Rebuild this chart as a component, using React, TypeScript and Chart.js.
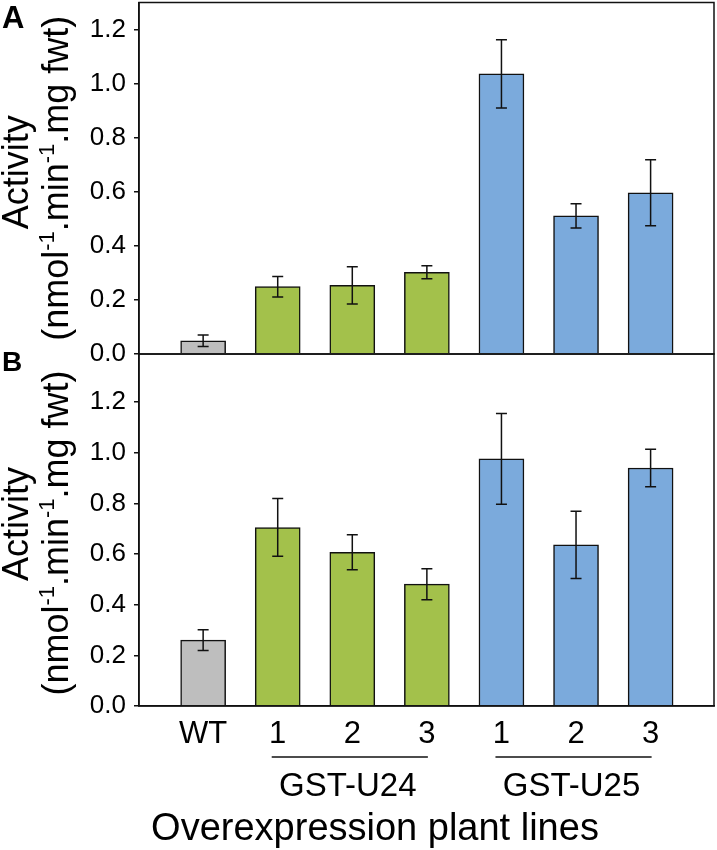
import React, { useEffect, useRef } from 'react';
import { Chart, registerables } from 'chart.js';

Chart.register(...registerables);

// ---------------- data ----------------
const categories = ['WT', '1', '2', '3', '1', '2', '3'];
const barColors = ['#BEBEBE', '#A3C14B', '#A3C14B', '#A3C14B', '#7BAADC', '#7BAADC', '#7BAADC'];
const activityA = [0.049, 0.249, 0.254, 0.302, 1.036, 0.511, 0.596];
const errorA = [0.021, 0.038, 0.069, 0.024, 0.126, 0.045, 0.122];
const activityB = [0.26, 0.705, 0.607, 0.481, 0.976, 0.636, 0.94];
const errorB = [0.041, 0.114, 0.069, 0.061, 0.179, 0.133, 0.074];
const yTicks = [0, 0.2, 0.4, 0.6, 0.8, 1.0, 1.2];
const groupLabels = ['GST-U24', 'GST-U25'];
const groupFrom = [1, 4];
const groupTo = [3, 6];
const xTitle = 'Overexpression plant lines';
const yTitleLine1 = 'Activity';
const yTitleParts = ['(nmol', '-1', '.min', '-1', '.mg fwt)'];
const yTitleSup = [false, true, false, true, false];

// ---------------- styling ----------------
const FONT = '"Liberation Sans", Arial, Helvetica, sans-serif';
const INK = '#111111';

function buildConfig(opts: any) {
  const { values, errors, yMax, letter, letterSize, letterBaseline, bottom, padding, t1Shift, t2Shift } = opts;

  const framePlugin = {
    id: 'frame',
    afterDraw(chart: any) {
      const { ctx, chartArea: a } = chart;
      ctx.save();
      ctx.strokeStyle = INK;
      ctx.lineWidth = 1.5;
      ctx.strokeRect(a.left, a.top, a.right - a.left, a.bottom - a.top);
      ctx.restore();
    },
  };

  const errorPlugin = {
    id: 'errbars',
    afterDatasetsDraw(chart: any) {
      const xs = chart.scales.x;
      const ys = chart.scales.y;
      const ctx = chart.ctx;
      ctx.save();
      ctx.strokeStyle = INK;
      ctx.lineWidth = 1.5;
      values.forEach((v: number, i: number) => {
        const px = xs.getPixelForValue(i);
        const top = ys.getPixelForValue(v + errors[i]);
        const bot = ys.getPixelForValue(v - errors[i]);
        ctx.beginPath();
        ctx.moveTo(px, top);
        ctx.lineTo(px, bot);
        ctx.moveTo(px - 5.5, top);
        ctx.lineTo(px + 5.5, top);
        ctx.moveTo(px - 5.5, bot);
        ctx.lineTo(px + 5.5, bot);
        ctx.stroke();
      });
      ctx.restore();
    },
  };

  const titlePlugin = {
    id: 'ytitle',
    afterDraw(chart: any) {
      const { ctx, chartArea: a } = chart;
      const cy = (a.top + a.bottom) / 2;
      ctx.save();
      ctx.fillStyle = '#000';
      // line 1
      ctx.save();
      ctx.translate(28, cy + t1Shift);
      ctx.rotate(-Math.PI / 2);
      ctx.font = `36px ${FONT}`;
      ctx.textAlign = 'center';
      ctx.textBaseline = 'alphabetic';
      ctx.fillText(yTitleLine1, 0, 0);
      ctx.restore();
      // line 2 with superscripts
      ctx.save();
      ctx.translate(67.5, cy + t2Shift);
      ctx.rotate(-Math.PI / 2);
      ctx.textAlign = 'left';
      ctx.textBaseline = 'alphabetic';
      const mainFont = `36px ${FONT}`;
      const supFont = `22px ${FONT}`;
      let total = 0;
      const widths = yTitleParts.map((t, i) => {
        ctx.font = yTitleSup[i] ? supFont : mainFont;
        const w = ctx.measureText(t).width;
        total += w;
        return w;
      });
      let xx = -total / 2;
      yTitleParts.forEach((t, i) => {
        ctx.font = yTitleSup[i] ? supFont : mainFont;
        ctx.fillText(t, xx, yTitleSup[i] ? -14 : 0);
        xx += widths[i];
      });
      ctx.restore();
      // panel letter
      ctx.font = `bold ${letterSize}px ${FONT}`;
      ctx.textAlign = 'left';
      ctx.fillText(letter, 2, letterBaseline);
      ctx.restore();
    },
  };

  const groupPlugin = {
    id: 'groups',
    afterDraw(chart: any) {
      if (!bottom) return;
      const { ctx, chartArea: a } = chart;
      const xs = chart.scales.x;
      ctx.save();
      ctx.strokeStyle = INK;
      ctx.fillStyle = '#000';
      ctx.lineWidth = 1.5;
      groupLabels.forEach((g, i) => {
        const x1 = xs.getPixelForValue(groupFrom[i]) - 6;
        const x2 = xs.getPixelForValue(groupTo[i]) + 1;
        const ly = a.bottom + 51;
        ctx.beginPath();
        ctx.moveTo(x1, ly);
        ctx.lineTo(x2, ly);
        ctx.stroke();
        ctx.font = `33px ${FONT}`;
        ctx.textAlign = 'center';
        ctx.textBaseline = 'alphabetic';
        ctx.fillText(g, (x1 + x2) / 2 - 2, a.bottom + 89.5);
      });
      ctx.font = `38px ${FONT}`;
      ctx.textAlign = 'center';
      ctx.fillText(xTitle, a.left + 236, a.bottom + 134);
      ctx.restore();
    },
  };

  return {
    type: 'bar',
    data: {
      datasets: [
        {
          data: values.map((v: number, i: number) => ({ x: i, y: v })),
          backgroundColor: barColors,
          borderColor: INK,
          borderWidth: 1.5,
          barThickness: 45,
        },
      ],
    },
    options: {
      animation: false,
      responsive: false,
      devicePixelRatio: 1,
      layout: { padding },
      plugins: { legend: { display: false }, tooltip: { enabled: false } },
      scales: {
        x: {
          type: 'linear',
          min: -0.86,
          max: 6.85,
          offset: false,
          display: bottom,
          grid: { display: true, drawOnChartArea: false, drawTicks: false, offset: false },
          border: { display: true, color: INK, width: 1.5 },
          afterBuildTicks: (scale: any) => {
            scale.ticks = categories.map((_, i) => ({ value: i }));
          },
          afterFit: (scale: any) => {
            if (bottom) scale.height = 144;
            scale.paddingLeft = 0;
            scale.paddingRight = 0;
          },
          ticks: {
            autoSkip: false,
            maxRotation: 0,
            padding: 10,
            color: '#000',
            font: { size: 31, family: FONT },
            callback: (_v: any, idx: number) => categories[idx],
          },
        },
        y: {
          type: 'linear',
          min: 0,
          max: yMax,
          grid: { drawOnChartArea: false, drawTicks: true, tickLength: 5, color: INK, lineWidth: 1.5 },
          border: { display: true, color: INK, width: 1.5 },
          afterBuildTicks: (scale: any) => {
            scale.ticks = yTicks.map((v) => ({ value: v }));
          },
          afterFit: (scale: any) => {
            scale.width = 139;
            scale.paddingTop = 0;
            scale.paddingBottom = 0;
          },
          ticks: {
            padding: 8,
            color: '#000',
            font: { size: 26, family: FONT },
            callback: (v: any) => Number(v).toFixed(1),
          },
        },
      },
    },
    plugins: [errorPlugin, framePlugin, titlePlugin, groupPlugin],
  };
}

export default function App() {
  const refA = useRef<HTMLCanvasElement | null>(null);
  const refB = useRef<HTMLCanvasElement | null>(null);

  useEffect(() => {
    const chartA = new Chart(
      refA.current as any,
      buildConfig({
        values: activityA,
        errors: errorA,
        yMax: 1.3,
        letter: 'A',
        letterSize: 31,
        letterBaseline: 28,
        bottom: false,
        padding: { top: 2.5, bottom: 26, left: 0, right: 3 },
        t1Shift: -6,
        t2Shift: 0,
      }) as any
    );
    const chartB = new Chart(
      refB.current as any,
      buildConfig({
        values: activityB,
        errors: errorB,
        yMax: 1.39,
        letter: 'B',
        letterSize: 28,
        letterBaseline: 27,
        bottom: true,
        padding: { top: 10, bottom: 0, left: 0, right: 3 },
        t1Shift: -6,
        t2Shift: 3,
      }) as any
    );
    return () => {
      chartA.destroy();
      chartB.destroy();
    };
  }, []);

  return (
    <div style={{ position: 'absolute', left: 0, top: 0, width: 717, height: 850, background: '#fff', overflow: 'hidden' }}>
      <canvas ref={refA} width={717} height={380} style={{ position: 'absolute', left: 0, top: 0, width: 717, height: 380 }} />
      <canvas ref={refB} width={717} height={506} style={{ position: 'absolute', left: 0, top: 344, width: 717, height: 506 }} />
    </div>
  );
}
